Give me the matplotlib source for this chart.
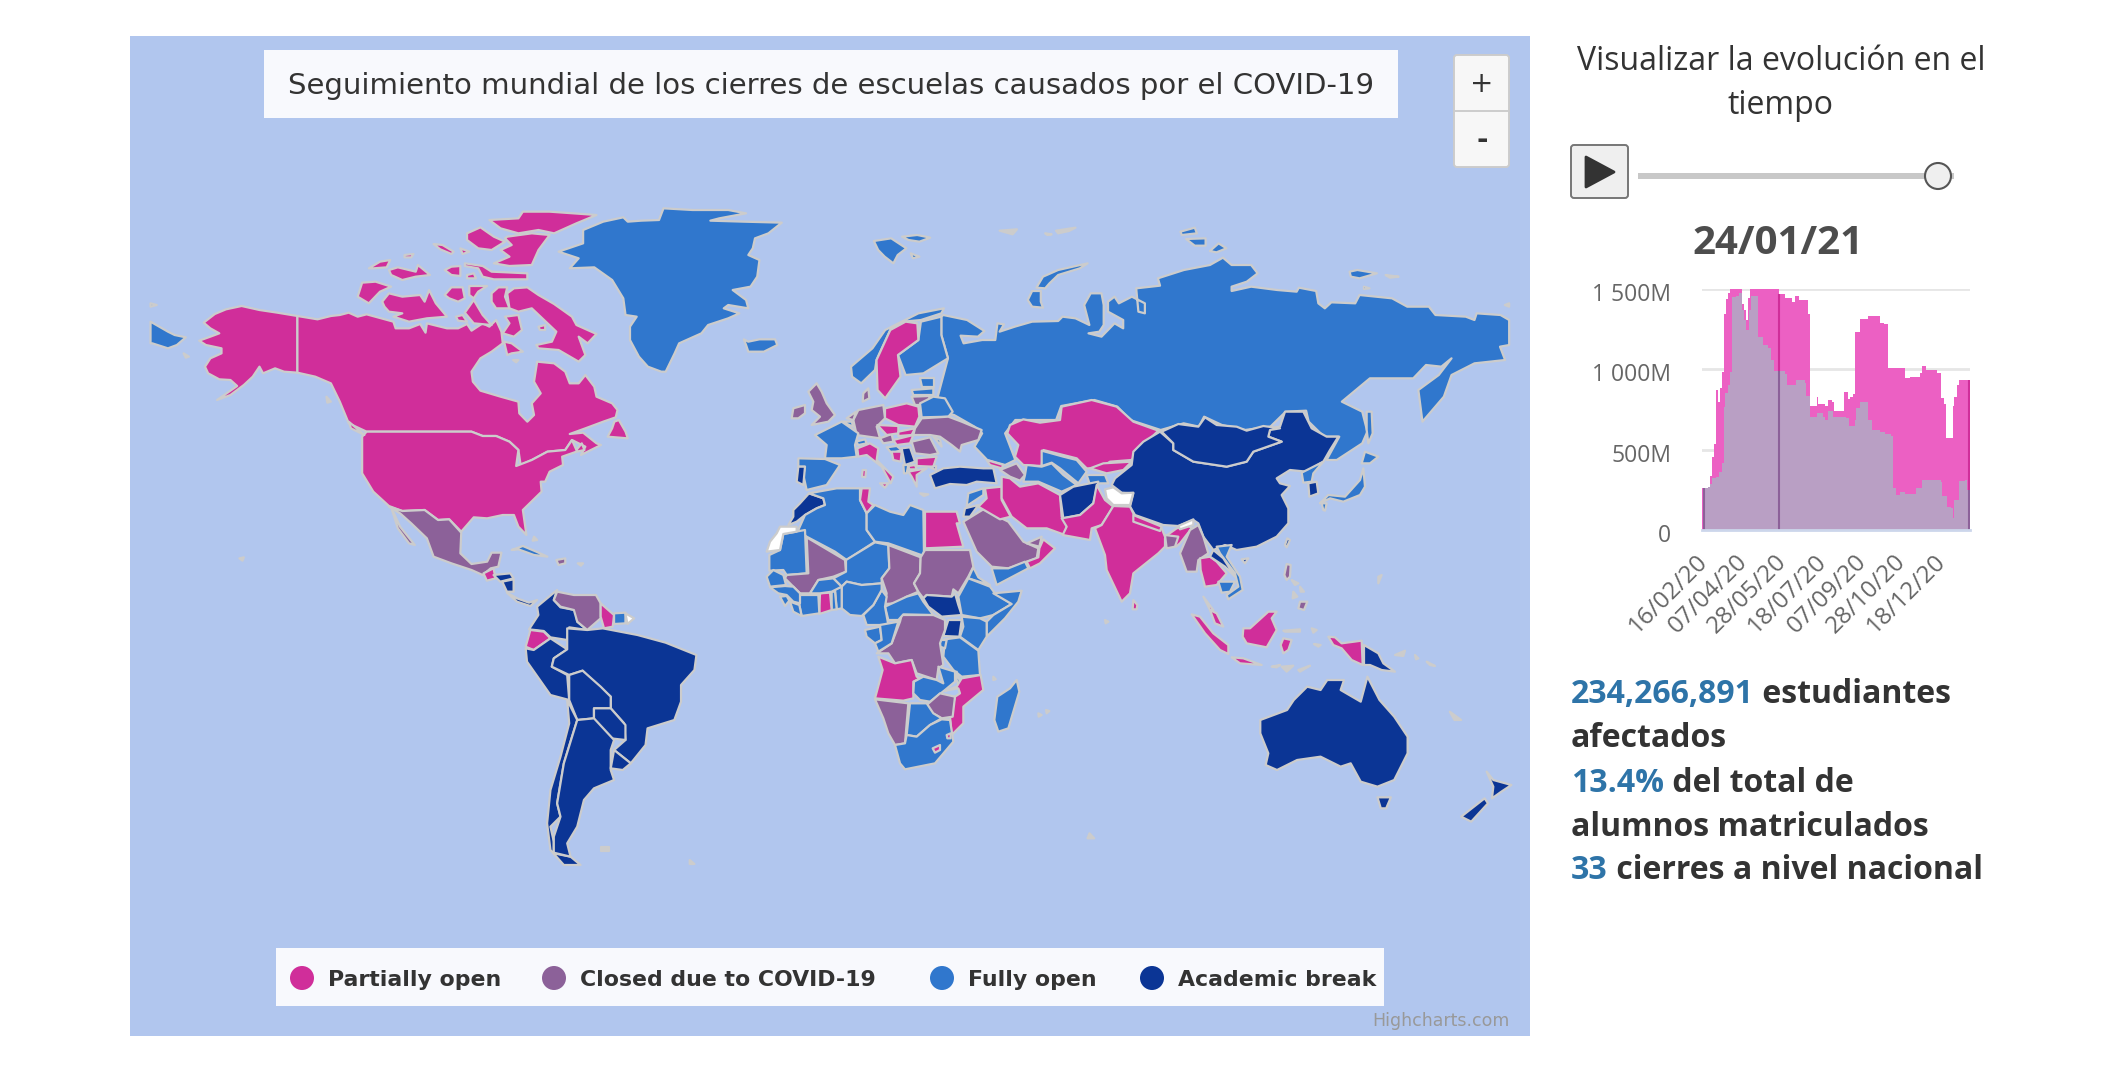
import numpy as np
import matplotlib
matplotlib.use("Agg")
import matplotlib.pyplot as plt
from matplotlib.patches import Polygon, Rectangle, FancyBboxPatch, Circle
from matplotlib.transforms import ScaledTranslation

# valores del grafico de area (dia desde 16/02/20, millones de alumnos)
TOTAL_DAYS = [0, 8, 10, 13, 15, 18, 20, 23, 26, 28, 31, 34, 36, 51, 54, 57, 59, 62, 99, 100, 107, 115, 120, 125,
              136, 138, 147, 149, 158, 162, 167, 169, 177, 182, 187, 190, 194, 197, 203, 213, 228, 233, 239,
              260, 267, 280, 283, 288, 301, 307, 311, 313, 322, 324, 327, 330, 331, 344]
TOTAL_VALUES = [259, 270, 336, 456, 535, 871, 799, 882, 985, 1344, 1438, 1473, 1520, 1407, 1369, 1307, 1442, 1520,
                1469, 1469, 1442, 1421, 1456, 1431, 1344, 772, 830, 784, 772, 809, 799, 743, 743, 859, 813, 830,
                846, 1234, 1315, 1332, 1290, 1282, 1006, 948, 954, 975, 1023, 996, 975, 820, 784, 573, 772, 830,
                902, 934, 934, 934]
CLOSED_DAYS = [3, 8, 10, 13, 18, 22, 26, 28, 30, 33, 36, 38, 44, 48, 51, 54, 57, 60, 63, 72, 78, 85, 89, 93, 106,
               109, 121, 132, 134, 138, 147, 155, 158, 162, 168, 185, 189, 196, 198, 203, 213, 218, 228, 235,
               243, 245, 249, 254, 260, 275, 282, 307, 308, 314, 320, 322, 324, 330, 337, 340, 344]
CLOSED_VALUES = [259, 270, 286, 322, 332, 363, 415, 768, 851, 902, 985, 1448, 1456, 1473, 1369, 1307, 1245, 1369,
                 1456, 1199, 1151, 1131, 1058, 992, 971, 902, 934, 913, 834, 701, 726, 705, 685, 743, 705, 695,
                 647, 685, 757, 799, 685, 622, 608, 595, 585, 259, 218, 239, 224, 259, 311, 297, 214, 141, 135,
                 73, 187, 307, 311, 249, 249]
HIGHLIGHT_DAYS = [3, 99, 343]
TICK_DAYS = [3, 54, 105, 156, 207, 258, 309]
TICK_LABELS = ["16/02/20", "07/04/20", "28/05/20", "18/07/20", "07/09/20", "28/10/20", "18/12/20"]
Y_TICKS = [0, 500, 1000, 1500]
Y_LABELS = ["0", "500M", "1 000M", "1 500M"]

LEGEND_LABELS = ["Partially open", "Closed due to COVID-19", "Fully open", "Academic break"]
LEGEND_KEYS = ["p", "c", "o", "b"]
STAT_LINES = [[("234,266,891", True), (" estudiantes", False)], [("afectados", False)],
              [("13.4%", True), (" del total de", False)], [("alumnos matriculados", False)],
              [("33", True), (" cierres a nivel nacional", False)]]

COLORS = {"p": "#d02e9a", "c": "#8c6199", "o": "#3077cd", "b": "#0b3595", "w": "#ffffff", "g": "#cccccc"}

# contornos de los paises, cada region en su propio marco (x0, y0, escala x, escala y)
FRAME_ARCTIC = (850, 215, 2.306, 3)
FRAME_NORTH = (130, 180, 2.24, 3)
FRAME_SOUTH = (450, 550, 1.4933, 3)
FRAME_RUSSIA = (750, 280, 1.96, 3)
FRAME_AFRICA = (760, 480, 3, 3)
FRAME_EUROPE = (770, 360, 3, 3)
FRAME_ASIA = (1050, 400, 3, 3)

RUSSIA_NORTH_COAST = [(215,300),(270,315),(310,348),(295,365),(255,362),(262,385),(305,375),(335,375),(340,325),(355,328),(345,350),(380,335),(420,320),(480,318),(490,305),(520,310),(552,330),(540,270),(555,235),(580,235),(585,270),(585,330),(575,350),(550,355),(580,365),(610,325),(630,340),(630,315),(595,290),(595,260),(610,245),(620,265),(650,245),(680,265),(680,295),(665,290),(660,220),(715,212),(710,190),(770,165),(830,150),(860,128),(880,150),(925,150),(940,175),(915,200),(880,215),(880,228),(925,215),(985,225),(1030,230),(1035,218),(1075,228),(1080,265),(1095,280),(1110,262),(1165,265),(1175,240),(1250,250),(1285,275),(1335,275),(1350,300),(1420,305),(1440,315),(1445,295),(1500,300),(1520,315)]
RUSSIA_SOUTH_BORDER = [(1488,195),(1470,200),(1480,240),(1420,250),(1375,285),(1360,350),(1318,425),(1310,330),(1350,285),(1375,235),(1355,260),(1325,255),(1300,295),(1215,295),(1160,365),(1200,395),(1210,455),(1200,490),(1150,540),(1130,540),(1155,470),(1125,470),(1095,425),(1090,392),(1050,395),(1020,440),(970,450),(925,435),(890,410),(880,440),(850,430),(805,450),(745,420),(720,380),(675,360),(610,378),(600,420),(520,420),(500,460),(520,540),(500,555),(465,540),(440,500),(455,460),(440,440),(400,405),(370,395),(368,350),(388,235),(375,165),(375,110)]

ARCTIC_ISLANDS = [
    ("o", [(55,78),(95,70),(130,100),(110,120),(100,145),(80,125),(65,105)]),
    ("o", [(120,65),(155,60),(185,68),(160,80),(135,75)]),
    ("o", [(140,115),(160,125),(145,130)]),
    ("g", [(345,47),(385,43),(375,58)]),
    ("g", [(450,55),(465,58),(455,60)]),
    ("g", [(475,47),(520,38),(505,48),(480,55)]),
    ("o", [(430,218),(445,185),(480,165),(548,145),(530,160),(480,180),(460,205),(450,220)]),
    ("o", [(410,255),(420,228),(440,228),(440,260),(445,278),(420,275)]),
    ("o", [(762,50),(795,38),(800,55),(765,60)]),
    ("o", [(775,72),(820,70),(820,92),(795,92)]),
    ("o", [(830,108),(850,85),(868,100),(845,112)]),
    ("o", [(1152,170),(1170,165),(1215,175),(1175,190),(1155,185)]),
    ("o", [(1235,180),(1265,185),(1245,188)]),
    ("o", [(1185,215),(1198,220),(1185,222)]),
    ("g", [(1510,270),(1520,265),(1520,275)]),
]

NORDIC = [
    ("o", [(198,260),(240,205),(265,150),(330,100),(380,85),(375,100),(335,120),(300,125),(275,150),(248,240),(245,270),(218,310),(200,290)]),
    ("o", [(335,125),(375,110),(375,165),(388,235),(340,280),(305,285),(290,225),(330,180)]),
    ("p", [(305,125),(328,130),(330,180),(290,225),(295,290),(265,355),(250,330),(248,240),(275,150)]),
]

NORTH_AMERICA = [
    ("p", [(375,408),(330,398),(290,390),(250,378),(215,388),(190,402),(165,428),(180,445),(200,460),(180,470),(155,482),(170,495),(205,505),(205,520),(180,535),(168,560),(175,580),(200,598),(225,600),(240,618),(195,660),(225,645),(255,615),(275,590),(290,560),(298,580),(325,565),(345,575),(375,578)]),
    ("p", [(375,408),(420,418),(450,408),(470,405),(490,398),(510,410),(530,403),(590,425),(595,445),(625,445),(650,432),(662,458),(665,430),(710,445),(735,445),(755,432),(765,452),(790,430),(805,440),(820,420),(832,455),(835,490),(810,515),(785,535),(765,575),(768,605),(785,632),(830,650),(870,665),(872,700),(890,725),(905,705),(900,670),(920,640),(905,605),(912,545),(950,550),(975,575),(985,610),(1005,610),(1020,585),(1040,620),(1045,650),(1080,670),(1092,690),(1088,712),(1060,725),(1020,745),(985,762),(1015,758),(1045,790),(1055,795),(1010,825),(1020,800),(990,780),(975,810),(935,815),(900,840),(875,855),(870,810),(850,785),(820,768),(790,768),(765,755),(530,755),(490,730),(470,665),(450,610),(415,590),(375,578)]),
    ("p", [(530,755),(765,755),(790,768),(820,768),(850,785),(870,810),(865,858),(900,840),(935,815),(975,810),(990,780),(1000,810),(1012,790),(1018,810),(1000,815),(968,830),(970,855),(940,875),(930,905),(920,905),(922,935),(880,990),(888,1065),(870,1040),(860,1005),(835,1005),(800,1015),(770,1012),(742,1055),(715,1018),(690,1020),(660,990),(610,993),(580,978),(545,935),(520,880),(520,770)]),
    ("c", [(580,980),(610,993),(660,990),(690,1020),(715,1018),(742,1058),(740,1120),(765,1152),(800,1145),(810,1118),(832,1118),(825,1160),(808,1165),(790,1185),(765,1170),(720,1150),(680,1130),(665,1075),(630,1030),(605,1000)]),
    ("c", [(585,982),(605,1040),(638,1095),(625,1090),(600,1045)]),
    ("o", [(46,425),(85,455),(100,465),(125,472),(105,495),(85,505),(50,490),(46,490)]),
    ("o", [(46,370),(60,375),(46,380)]),
    ("p", [(805,120),(870,115),(880,95),(940,95),(1045,105),(1000,130),(950,160),(915,150),(870,160),(830,145)]),
    ("p", [(845,170),(900,160),(940,165),(915,210),(900,255),(850,258),(815,250),(850,230),(830,210),(855,195),(840,175)]),
    ("p", [(755,160),(785,142),(815,170),(840,185),(810,210),(780,205),(755,180)]),
    ("p", [(680,192),(700,195),(725,215),(720,222),(695,208)]),
    ("p", [(740,205),(760,215),(745,222)]),
    ("p", [(615,225),(635,222),(630,232),(615,232)]),
    ("p", [(535,265),(560,245),(583,240),(575,262),(545,265)]),
    ("p", [(580,270),(600,262),(640,275),(645,255),(672,285),(640,290),(610,300),(585,285)]),
    ("p", [(705,270),(720,260),(740,258),(740,288),(720,285)]),
    ("p", [(750,250),(790,258),(810,275),(890,280),(890,298),(815,298),(790,290),(780,265),(750,258)]),
    ("p", [(755,285),(770,280),(775,295),(755,295)]),
    ("p", [(520,308),(550,305),(585,320),(560,335),(535,370),(510,350)]),
    ("p", [(565,365),(580,340),(610,350),(650,345),(660,365),(670,330),(685,370),(710,410),(665,415),(625,425),(590,410),(610,400),(580,395),(570,380)]),
    ("p", [(705,345),(720,322),(745,322),(750,355),(735,365),(715,355)]),
    ("p", [(760,318),(800,318),(780,335),(770,355),(760,345)]),
    ("p", [(810,340),(825,322),(845,322),(840,350),(850,385),(820,385),(810,365)]),
    ("p", [(860,325),(890,322),(915,345),(950,372),(990,410),(1000,435),(1045,462),(1025,490),(1005,470),(1020,525),(1005,545),(960,510),(915,505),(910,495),(945,485),(955,455),(900,385),(870,395),(850,385),(845,340)]),
    ("p", [(750,398),(770,360),(790,405),(810,435),(770,430)]),
    ("p", [(840,410),(870,405),(878,450),(860,470),(835,460),(850,430)]),
    ("p", [(730,410),(745,405),(755,425),(735,422)]),
    ("p", [(915,440),(930,435),(930,450),(918,450)]),
    ("p", [(838,485),(855,490),(880,515),(855,520),(845,525)]),
    ("p", [(1085,725),(1095,720),(1110,755),(1115,775),(1070,770),(1080,745)]),
    ("p", [(490,725),(525,765),(495,745)]),
    ("o", [(1015,150),(1060,125),(1105,112),(1115,125),(1145,122),(1185,120),(1195,85),(1260,90),(1340,90),(1380,100),(1320,115),(1300,122),(1375,125),(1460,128),(1430,160),(1400,175),(1395,205),(1385,225),(1410,240),(1405,290),(1390,320),(1350,330),(1380,360),(1385,385),(1340,375),(1330,385),(1365,400),(1340,415),(1295,435),(1280,460),(1230,490),(1220,520),(1200,575),(1190,575),(1160,560),(1140,530),(1120,480),(1120,440),(1135,410),(1110,405),(1105,355),(1080,300),(1040,262),(985,265),(1005,235),(960,215),(1015,190)]),
    ("o", [(1375,478),(1385,485),(1410,478),(1445,478),(1450,495),(1420,515),(1385,515),(1380,495)]),
    ("o", [(855,1110),(880,1098),(910,1115),(935,1130),(905,1125),(870,1108)]),
    ("c", [(955,1140),(975,1135),(975,1150),(960,1155)]),
    ("g", [(120,520),(132,530),(125,533)]),
    ("g", [(858,540),(870,540),(865,547)]),
    ("g", [(440,650),(450,665),(442,668)]),
    ("g", [(245,1135),(255,1132),(252,1142)]),
    ("g", [(905,1070),(912,1080),(902,1082)]),
    ("g", [(1003,1150),(1015,1150),(1010,1157)]),
]

SOUTH_AMERICA = [
    ("p", [(50,70),(65,55),(68,85),(55,92)]),
    ("b", [(65,75),(90,70),(95,85),(75,95)]),
    ("b", [(78,95),(95,88),(95,125),(85,125)]),
    ("b", [(85,128),(100,145),(118,158),(130,150),(120,168),(100,155)]),
    ("b", [(160,120),(155,150),(165,172),(187,180),(190,215),(205,240),(178,232),(175,270),(150,262),(140,243),(118,238),(132,195),(130,170)]),
    ("c", [(160,125),(185,135),(218,135),(225,160),(225,205),(205,240),(190,215),(185,180),(165,170),(155,150)]),
    ("p", [(225,160),(245,195),(243,230),(230,235),(225,200)]),
    ("o", [(245,190),(262,188),(262,220),(245,222)]),
    ("w", [(262,190),(275,205),(265,222)]),
    ("p", [(120,240),(140,245),(150,265),(125,300),(113,290)]),
    ("b", [(113,295),(125,300),(150,265),(175,298),(155,325),(152,350),(175,375),(178,450),(150,435),(115,335)]),
    ("b", [(175,235),(205,240),(228,235),(280,255),(322,278),(368,315),(365,360),(345,405),(345,455),(335,510),(295,535),(292,585),(270,640),(245,600),(262,570),(260,520),(240,475),(240,440),(220,405),(198,362),(178,375),(152,350),(155,325),(175,298)]),
    ("b", [(178,375),(198,362),(225,410),(240,440),(240,475),(215,475),(215,505),(190,510),(178,450)]),
    ("b", [(215,475),(240,475),(262,525),(262,570),(240,565),(215,515)]),
    ("b", [(175,450),(190,510),(170,640),(160,760),(165,800),(150,830),(155,875),(155,910),(180,920),(195,945),(170,945),(150,900),(145,820),(150,720),(165,620),(178,520)]),
    ("b", [(190,510),(215,505),(245,570),(240,600),(240,660),(245,690),(215,715),(200,750),(190,830),(175,880),(180,920),(155,908),(155,860),(165,800),(160,760),(170,640)]),
    ("b", [(245,600),(270,640),(258,660),(240,655)]),
    ("b", [(1210,510),(1250,480),(1260,450),(1280,410),(1300,420),(1310,390),(1335,390),(1330,420),(1360,455),(1370,380),(1388,450),(1410,500),(1430,560),(1430,610),(1410,690),(1385,710),(1360,695),(1345,640),(1330,650),(1300,620),(1265,630),(1235,660),(1218,645),(1222,610),(1210,550)]),
    ("b", [(1385,742),(1405,742),(1398,775),(1390,775)]),
    ("b", [(1510,800),(1545,745),(1550,760),(1525,815)]),
    ("b", [(1548,665),(1558,690),(1585,705),(1570,725),(1556,745),(1558,710)]),
    ("g", [(225,890),(238,890),(238,903),(225,903)]),
    ("g", [(955,850),(962,865),(952,865)]),
    ("g", [(1493,485),(1510,510),(1500,510)]),
    ("g", [(358,930),(365,942),(358,942)]),
]

AFRICA = [
    ("b", [(147,40),(190,55),(195,75),(170,85),(135,105),(110,125),(85,135),(100,110),(100,90),(120,70)]),
    ("o", [(147,40),(230,25),(300,25),(300,60),(320,100),(320,150),(345,185),(260,240),(225,215),(140,170),(115,150),(135,105),(170,85),(195,75),(190,55)]),
    ("p", [(305,25),(330,25),(325,65),(340,75),(320,100),(300,60)]),
    ("o", [(320,100),(345,75),(390,95),(430,105),(450,75),(490,90),(492,228),(385,190),(345,185),(320,150)]),
    ("p", [(495,95),(590,95),(600,130),(590,130),(610,200),(495,205)]),
    ("o", [(70,162),(135,150),(140,280),(80,285),(70,270),(28,272),(28,225),(60,210)]),
    ("w", [(60,140),(110,140),(110,155),(70,162),(60,210),(20,215),(30,185),(50,160)]),
    ("c", [(140,172),(255,240),(258,275),(220,290),(175,300),(150,340),(120,340),(100,320),(75,295),(80,285),(145,280)]),
    ("o", [(345,187),(385,195),(388,265),(365,295),(365,310),(305,315),(260,305),(245,320),(220,295),(258,275),(258,240)]),
    ("c", [(385,195),(482,232),(480,280),(462,310),(475,335),(440,350),(405,370),(375,372),(380,340),(365,295),(388,265)]),
    ("c", [(495,210),(630,210),(640,260),(625,290),(595,340),(580,328),(575,350),(500,345),(490,355),(475,335),(462,310),(480,280),(482,232)]),
    ("b", [(500,345),(575,350),(585,340),(595,375),(605,405),(545,410),(505,380),(490,355)]),
    ("o", [(640,262),(655,292),(690,315),(625,295)]),
    ("o", [(625,295),(690,320),(705,340),(755,372),(700,405),(660,415),(605,405),(595,350)]),
    ("o", [(700,340),(785,332),(775,365),(735,415),(680,470),(680,425),(700,405),(755,372)]),
    ("o", [(605,410),(660,415),(680,425),(680,470),(655,510),(600,470),(610,440)]),
    ("b", [(565,420),(605,420),(598,470),(550,468)]),
    ("o", [(555,478),(600,472),(655,512),(660,585),(605,590),(580,570),(550,530)]),
    ("o", [(540,480),(560,480),(555,505),(540,500)]),
    ("c", [(425,405),(520,405),(555,420),(555,450),(540,490),(550,555),(535,565),(530,600),(470,580),(455,540),(405,550),(385,520),(350,520),(395,490),(420,425)]),
    ("o", [(375,380),(440,350),(475,340),(490,365),(520,405),(430,403),(415,420),(385,420)]),
    ("o", [(365,330),(380,350),(375,380),(385,435),(320,435),(310,405),(340,375)]),
    ("o", [(245,320),(260,305),(305,315),(365,310),(365,330),(340,375),(305,408),(270,405),(245,385)]),
    ("o", [(225,328),(245,320),(245,385),(230,388)]),
    ("o", [(215,335),(225,335),(230,388),(215,390)]),
    ("p", [(180,340),(210,338),(215,390),(178,402)]),
    ("o", [(150,340),(175,300),(220,295),(245,320),(215,335),(180,340)]),
    ("o", [(120,345),(175,345),(178,400),(125,408),(118,375)]),
    ("o", [(20,290),(40,270),(70,285),(78,315),(30,320)]),
    ("o", [(30,322),(75,318),(100,320),(120,340),(120,370),(100,365),(80,345),(55,340)]),
    ("o", [(60,350),(80,348),(88,362),(75,378)]),
    ("o", [(90,365),(118,375),(125,408),(100,395)]),
    ("o", [(315,450),(360,440),(365,480),(345,490),(320,470)]),
    ("o", [(360,435),(415,425),(395,490),(355,515),(345,490),(365,480)]),
    ("p", [(355,530),(405,550),(455,540),(470,590),(480,595),(460,605),(460,655),(430,662),(345,655),(368,570)]),
    ("o", [(535,560),(585,575),(585,605),(555,630),(510,665),(480,660),(460,640),(462,605),(490,590),(530,600),(550,610)]),
    ("o", [(590,575),(605,620),(610,650),(598,620),(590,600)]),
    ("p", [(605,595),(662,585),(670,630),(610,680),(610,730),(575,765),(570,710),(585,650),(600,640),(595,625),(555,632),(590,620)]),
    ("c", [(500,675),(540,640),(585,650),(578,710),(545,715),(510,695)]),
    ("o", [(450,670),(500,670),(520,700),(545,715),(510,735),(470,770),(440,765)]),
    ("c", [(345,658),(445,670),(435,790),(405,795),(385,760),(370,715)]),
    ("o", [(405,795),(435,790),(440,765),(470,770),(510,735),(545,718),(570,720),(580,785),(525,850),(435,868),(420,850)]),
    ("p", [(518,805),(540,795),(540,810),(525,818)]),
    ("p", [(560,765),(572,760),(572,775),(562,775)]),
    ("o", [(770,600),(778,635),(745,745),(715,755),(703,720),(712,650),(750,625)]),
    ("c", [(610,125),(670,88),(745,125),(790,185),(835,205),(830,235),(745,265),(695,260),(650,215)]),
    ("o", [(695,265),(745,265),(795,245),(805,265),(710,315)]),
    ("p", [(850,178),(885,205),(840,250),(810,265),(800,245),(835,232),(838,205)]),
    ("c", [(800,190),(845,170),(838,200)]),
    ("g", [(700,590),(707,598),(700,600)]),
    ("g", [(835,700),(845,705),(836,710)]),
    ("g", [(858,690),(868,693),(860,700)]),
    ("g", [(1035,420),(1045,425),(1037,430)]),
]

EUROPE = [
    ("c", [(130,80),(140,70),(155,95),(170,130),(195,165),(175,185),(125,195),(150,170),(125,150),(130,125),(115,95)]),
    ("c", [(70,145),(105,135),(105,160),(85,175),(65,175)]),
    ("c", [(280,100),(295,85),(298,115),(278,125)]),
    ("o", [(450,55),(492,55),(492,80),(455,80)]),
    ("o", [(425,90),(490,85),(490,105),(430,105)]),
    ("c", [(425,110),(480,108),(470,135),(435,135)]),
    ("o", [(450,130),(490,110),(525,115),(548,155),(535,170),(455,172)]),
    ("p", [(345,145),(410,130),(445,140),(448,170),(435,200),(385,195),(345,175)]),
    ("c", [(265,150),(340,135),(345,175),(320,200),(330,235),(260,225),(250,180)]),
    ("c", [(230,175),(258,155),(250,180)]),
    ("o", [(215,185),(245,185),(250,200)]),
    ("o", [(135,225),(165,210),(215,185),(265,220),(255,255),(260,290),(215,295),(165,295),(170,255)]),
    ("o", [(85,295),(165,297),(210,315),(170,375),(110,390),(100,345),(105,320),(85,320)]),
    ("b", [(85,320),(105,320),(100,375),(80,365)]),
    ("o", [(258,245),(285,238),(290,250),(265,255)]),
    ("p", [(262,265),(300,250),(325,265),(320,300),(370,350),(362,370),(335,320),(290,285),(265,290)]),
    ("p", [(330,370),(355,370),(345,383)]),
    ("p", [(278,330),(288,330),(286,352),(276,350)]),
    ("c", [(330,235),(365,222),(370,245),(340,250)]),
    ("p", [(322,195),(385,198),(385,220),(350,225)]),
    ("p", [(385,215),(435,205),(425,225),(385,228)]),
    ("p", [(370,240),(430,225),(420,250),(380,255)]),
    ("c", [(425,245),(480,232),(505,280),(480,285),(435,280)]),
    ("o", [(490,230),(510,240),(515,260)]),
    ("c", [(435,205),(455,175),(535,170),(575,185),(635,210),(625,240),(575,255),(570,275),(545,255),(510,230),(480,225),(430,225)]),
    ("o", [(350,262),(380,258),(395,270),(365,280)]),
    ("p", [(365,275),(395,275),(392,305),(370,300)]),
    ("b", [(395,265),(420,262),(435,305),(405,315)]),
    ("o", [(400,315),(415,315),(410,340),(402,340)]),
    ("p", [(415,318),(435,315),(440,328),(418,328)]),
    ("p", [(440,295),(500,290),(490,320),(440,318)]),
    ("p", [(415,335),(470,325),(440,345),(440,380),(425,350)]),
    ("b", [(480,322),(498,318),(498,330)]),
    ("b", [(480,345),(520,325),(570,320),(640,325),(670,325),(680,370),(620,365),(590,375),(540,372),(495,385)]),
    ("p", [(650,300),(700,315),(695,325),(660,315)]),
    ("c", [(690,330),(740,310),(765,345),(750,362),(720,350)]),
    ("o", [(595,400),(640,385),(640,405),(590,438)]),
    ("b", [(585,445),(625,435),(600,470),(580,470)]),
    ("p", [(645,385),(695,380),(695,420),(722,470),(690,478),(625,440),(650,415)]),
    ("p", [(695,350),(720,355),(750,380),(805,370),(870,405),(875,470),(892,490),(885,525),(830,505),(770,505),(725,470),(695,415)]),
    ("p", [(720,195),(760,178),(810,188),(870,180),(875,140),(965,120),(1040,140),(1090,185),(1165,212),(1110,265),(1085,300),(1020,305),(990,325),(950,325),(920,295),(880,285),(820,270),(815,318),(760,315),(735,290),(745,255),(712,220)]),
    ("o", [(815,272),(880,290),(920,300),(950,335),(925,370),(870,325),(845,308),(815,318)]),
    ("o", [(765,345),(770,315),(815,320),(845,310),(880,345),(920,375),(875,395),(805,365),(760,365)]),
    ("p", [(960,325),(1000,310),(1085,305),(1060,330),(1010,340)]),
    ("o", [(950,345),(1005,345),(1015,370),(990,370),(960,375)]),
    ("g", [(450,400),(475,403),(462,408)]),
]

ASIA = [
    ("b", [(30,285),(70,260),(145,245),(130,310),(90,345),(40,355)]),
    ("p", [(140,255),(165,300),(190,320),(155,375),(125,385),(120,420),(38,405),(50,380),(35,355),(90,345),(130,310)]),
    ("b", [(330,95),(370,130),(370,150),(430,185),(530,200),(590,185),(610,155),(695,125),(655,110),(660,85),(690,80),(705,35),(760,35),(785,85),(830,110),(865,110),(840,150),(820,185),(770,215),(720,210),(680,235),(690,250),(720,258),(695,285),(715,325),(715,370),(680,410),(620,440),(560,450),(525,435),(490,450),(460,410),(445,370),(430,360),(385,378),(340,375),(255,345),(240,320),(250,280),(215,278),(185,255),(195,235),(245,195),(250,155),(280,125)]),
    ("b", [(335,95),(385,72),(445,80),(465,52),(500,75),(560,80),(590,92),(640,78),(690,85),(660,90),(655,110),(695,125),(610,155),(590,185),(530,200),(430,185),(370,150),(370,130)]),
    ("w", [(165,268),(190,262),(215,280),(250,278),(240,315),(190,315),(170,295)]),
    ("p", [(190,318),(240,320),(255,350),(335,385),(345,410),(380,385),(415,375),(425,385),(390,430),(378,440),(345,415),(345,440),(325,460),(250,520),(240,580),(215,605),(170,510),(165,465),(135,385),(155,375)]),
    ("p", [(250,345),(335,380),(330,393),(250,365)]),
    ("w", [(385,378),(430,358),(430,375),(390,388)]),
    ("c", [(345,405),(385,410),(375,440),(350,445)]),
    ("c", [(445,375),(460,410),(475,460),(445,480),(440,515),(410,515),(390,460),(420,390)]),
    ("p", [(450,475),(480,470),(500,485),(530,520),(500,555),(465,560),(452,510)]),
    ("p", [(460,590),(490,630),(480,630)]),
    ("o", [(500,440),(545,435),(530,470),(570,530),(578,570),(535,598),(530,585),(565,560),(555,520),(510,460)]),
    ("b", [(490,450),(520,475),(555,530),(525,500),(480,470)]),
    ("o", [(505,545),(555,545),(540,575),(515,578)]),
    ("o", [(755,218),(820,185),(790,220),(785,245),(760,248)]),
    ("b", [(775,250),(800,245),(805,280),(778,290)]),
    ("o", [(885,290),(930,240),(940,205),(945,260),(930,285),(880,305),(840,295),(820,305),(810,310),(835,285)]),
    ("o", [(945,155),(985,170),(960,190),(935,190)]),
    ("o", [(815,310),(830,310),(825,332),(820,330)]),
    ("o", [(950,35),(965,35),(968,100),(955,130),(950,90)]),
    ("b", [(712,415),(720,420),(710,442),(705,435)]),
    ("b", [(575,478),(595,475),(585,490)]),
    ("p", [(250,600),(262,615),(260,628),(248,628)]),
    ("c", [(710,492),(722,495),(720,530),(710,540),(703,525)]),
    ("c", [(750,605),(772,605),(762,630),(745,625)]),
    ("g", [(725,540),(745,550),(735,555)]),
    ("g", [(730,575),(742,590),(728,595)]),
    ("g", [(750,560),(762,575),(752,575)]),
    ("p", [(480,630),(500,640),(520,680),(495,670)]),
    ("p", [(425,643),(450,650),(490,700),(535,735),(535,762),(510,750),(465,700)]),
    ("p", [(545,772),(580,775),(635,795),(570,790)]),
    ("p", [(580,685),(600,685),(655,635),(680,635),(665,655),(680,690),(650,742),(590,730),(578,710)]),
    ("p", [(700,715),(725,720),(715,750),(700,760),(692,735)]),
    ("p", [(835,710),(855,712),(875,730),(935,722),(938,795),(905,780),(875,745),(850,735)]),
    ("b", [(942,735),(985,760),(1000,790),(1035,815),(995,810),(960,795),(942,795)]),
    ("g", [(700,692),(750,688),(750,695),(705,695)]),
    ("g", [(785,685),(800,690),(790,698)]),
    ("g", [(792,732),(812,735),(805,740)]),
    ("g", [(745,810),(780,797),(750,815)]),
    ("g", [(665,800),(690,795),(680,802)]),
    ("g", [(695,800),(730,797),(710,815)]),
    ("g", [(1035,765),(1065,752),(1060,768)]),
    ("g", [(1095,765),(1105,775),(1098,778)]),
    ("g", [(1130,785),(1155,798),(1140,795)]),
    ("g", [(985,530),(995,525),(985,550)]),
]

LAYERS = [(FRAME_ARCTIC, ARCTIC_ISLANDS), (FRAME_RUSSIA, NORDIC), (FRAME_NORTH, NORTH_AMERICA),
          (FRAME_SOUTH, SOUTH_AMERICA), (FRAME_AFRICA, AFRICA), (FRAME_EUROPE, EUROPE), (FRAME_ASIA, ASIA)]


def to_px(pts, frame):
    x0, y0, fx, fy = frame
    arr = np.array(pts, dtype=float)
    return np.column_stack([x0 + arr[:, 0] / fx, y0 + arr[:, 1] / fy])


plt.rcParams["font.family"] = ["Open Sans", "DejaVu Sans"]

fig = plt.figure(figsize=(21.12, 10.8), dpi=100)
canvas = fig.add_axes([0, 0, 1, 1])
canvas.set_xlim(0, 2112)
canvas.set_ylim(1080, 0)
canvas.axis("off")

# fondo del mapa
sea = Rectangle((130, 36), 1400, 1000, facecolor="#b1c6ee", edgecolor="none", zorder=0)
canvas.add_patch(sea)


def add_shape(arr, key):
    poly = Polygon(arr, closed=True, facecolor=COLORS[key], edgecolor="#cccccc", linewidth=1.6,
                   joinstyle="round", zorder=1)
    canvas.add_patch(poly)
    poly.set_clip_path(sea)


add_shape(np.vstack([to_px(RUSSIA_NORTH_COAST, FRAME_ARCTIC), to_px(RUSSIA_SOUTH_BORDER, FRAME_RUSSIA)]), "o")
for frame, shapes in LAYERS:
    for key, pts in shapes:
        add_shape(to_px(pts, frame), key)

# titulo y botones de zoom
canvas.add_patch(Rectangle((264, 50), 1134, 68, facecolor="#f8f9fd", edgecolor="none", zorder=2))
canvas.text(831, 86, "Seguimiento mundial de los cierres de escuelas causados por el COVID-19", family="DejaVu Sans",
            fontsize=21, color="#333333", ha="center", va="center", zorder=3)
canvas.add_patch(FancyBboxPatch((1454, 55), 55, 112, boxstyle="round,pad=0,rounding_size=3", facecolor="#f7f7f7",
                                edgecolor="#cccccc", linewidth=1.4, zorder=2))
canvas.plot([1454, 1509], [111, 111], color="#cccccc", lw=1.4, zorder=3)
canvas.text(1482, 84, "+", family="DejaVu Sans", fontsize=20, color="#333333", ha="center", va="center", zorder=3)
canvas.text(1482, 140, "-", family="DejaVu Sans", fontsize=20, weight="bold", color="#333333", ha="center",
            va="center", zorder=3)

# leyenda
canvas.add_patch(Rectangle((276, 948), 1108, 58, facecolor="#f8f9fd", edgecolor="none", zorder=2))
for label, key, cx, tx in zip(LEGEND_LABELS, LEGEND_KEYS, [302, 554, 942, 1152], [328, 580, 968, 1178]):
    canvas.add_patch(Circle((cx, 978), 12, facecolor=COLORS[key], edgecolor="none", zorder=3))
    canvas.text(tx, 980, label, family="DejaVu Sans", fontsize=15.8, weight="bold", color="#333333", ha="left",
                va="center", zorder=3)
canvas.text(1510, 1021, "Highcharts.com", family="DejaVu Sans", fontsize=12.5, color="#999999", ha="right",
            va="center", zorder=3)

# panel derecho
canvas.text(1781, 62, "Visualizar la evolución en el", fontsize=23, color="#333333", ha="center", va="center")
canvas.text(1781, 106, "tiempo", fontsize=23, color="#333333", ha="center", va="center")
canvas.add_patch(FancyBboxPatch((1571, 145), 57, 53, boxstyle="round,pad=0,rounding_size=3", facecolor="#efefef",
                                edgecolor="#767676", linewidth=1.4))
canvas.add_patch(Polygon([(1586, 157), (1614, 172), (1586, 187)], closed=True, facecolor="#333333",
                         edgecolor="#333333", linewidth=2, joinstyle="round"))
canvas.add_patch(Rectangle((1638, 173), 316, 6, facecolor="#c8c8c8", edgecolor="none"))
canvas.add_patch(Circle((1938, 176), 13, facecolor="#efefef", edgecolor="#555555", linewidth=1.5, zorder=3))
canvas.text(1778, 244, "24/01/21", fontsize=29, weight="bold", color="#4d4d4d", ha="center", va="center")

# grafico de area
ax = fig.add_axes([1702 / 2112, 1 - 530 / 1080, 268 / 2112, 241 / 1080])
ax.patch.set_alpha(0)
ax.set_xlim(0, 344)
ax.set_ylim(0, 1500)
ax.yaxis.grid(True, color="#e6e6e6", lw=2)
ax.set_axisbelow(True)
for side in ["top", "right", "left"]:
    ax.spines[side].set_visible(False)
ax.spines["bottom"].set_color("#ccd6eb")
ax.spines["bottom"].set_linewidth(2)
ax.fill_between(TOTAL_DAYS, TOTAL_VALUES, step="post", color="#ec60c3", lw=0)
ax.fill_between(CLOSED_DAYS, CLOSED_VALUES, step="post", color="#b99fc4", lw=0)
for day in HIGHLIGHT_DAYS:
    total = TOTAL_VALUES[np.searchsorted(TOTAL_DAYS, day, side="right") - 1]
    closed = CLOSED_VALUES[np.searchsorted(CLOSED_DAYS, day, side="right") - 1]
    ax.vlines(day, closed, total, color=COLORS["p"], lw=1.5)
    ax.vlines(day, 0, closed, color=COLORS["c"], lw=1.5)
ax.set_xticks(TICK_DAYS)
ax.set_xticklabels(TICK_LABELS, rotation=45, ha="right", va="top", rotation_mode="anchor", fontsize=17.5,
                   color="#666666")
ax.set_yticks(Y_TICKS)
ax.set_yticklabels(Y_LABELS, fontsize=16.5, color="#666666")
ax.tick_params(length=0, pad=22, axis="y")
ax.tick_params(length=0, pad=14, axis="x")
for lab in ax.get_xticklabels():
    lab.set_transform(lab.get_transform() + ScaledTranslation(-0.09, 0, fig.dpi_scale_trans))
for lab in ax.get_yticklabels():
    lab.set_transform(lab.get_transform() + ScaledTranslation(0, -0.03, fig.dpi_scale_trans))

# texto de estadisticas
fig.canvas.draw()
renderer = fig.canvas.get_renderer()
for line, base in zip(STAT_LINES, [703, 747, 792, 836, 879]):
    x = 1571
    for chunk, is_num in line:
        t = canvas.text(x, base, chunk, fontsize=23, weight="bold", color="#2e74a8" if is_num else "#333333",
                        ha="left", va="baseline")
        x += t.get_window_extent(renderer).width

fig.savefig("out.png", dpi=100)
